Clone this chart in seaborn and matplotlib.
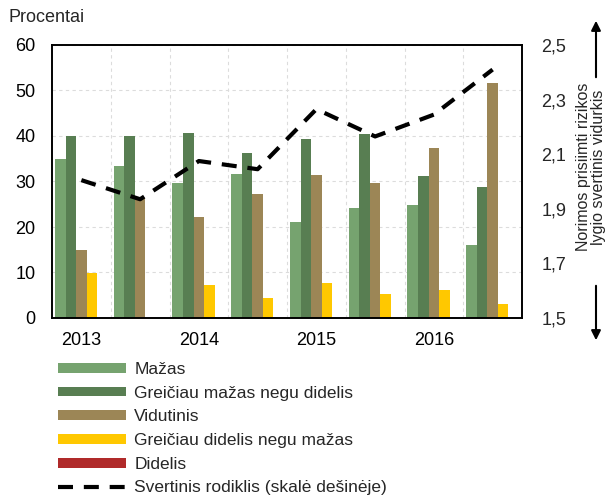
import pandas as pd
import seaborn as sns
import matplotlib.pyplot as plt
from matplotlib.ticker import FixedLocator

# Data (half-year periods, 2013-2016)
periods = ['2013 I', '2013 II', '2014 I', '2014 II', '2015 I', '2015 II', '2016 I', '2016 II']
tick_labels = ['2013', '2014', '2015', '2016']
categories = ['Mažas', 'Greičiau mažas negu didelis', 'Vidutinis',
              'Greičiau didelis negu mažas', 'Didelis']
mazas = [34.9, 33.3, 29.6, 31.7, 21.0, 24.2, 24.9, 16.0]
greiciau_mazas = [40.0, 40.0, 40.7, 36.3, 39.4, 40.5, 31.2, 28.9]
vidutinis = [14.9, 26.4, 22.1, 27.2, 31.5, 29.6, 37.4, 51.6]
greiciau_didelis = [9.9, 0.0, 7.3, 4.3, 7.8, 5.3, 6.2, 3.1]
didelis = [0, 0, 0, 0, 0, 0, 0, 0]
svertinis = [2.005, 1.935, 2.075, 2.045, 2.265, 2.165, 2.245, 2.41]
line_label = 'Svertinis rodiklis (skalė dešinėje)'

colors = ['#76a36f', '#587e52', '#9c8656', '#ffc800', '#b02a2a']

df = pd.DataFrame({
    'period': periods * 5,
    'category': [c for c in categories for _ in periods],
    'value': mazas + greiciau_mazas + vidutinis + greiciau_didelis + didelis,
})

sns.set_style('white')
plt.rcParams['font.family'] = ['Liberation Sans', 'DejaVu Sans']

fig = plt.figure(figsize=(6.15, 4.98), dpi=100)
ax = fig.add_axes([52 / 615, 1 - 318 / 498, 470 / 615, 273 / 498])

sns.barplot(data=df, x='period', y='value', hue='category', order=periods,
            hue_order=categories, palette=colors, saturation=1, width=0.9,
            linewidth=0, ax=ax, legend=True)

ax.set_xlim(-0.5, 7.5)
ax.set_ylim(0, 60)
ax.set_yticks(range(0, 61, 10))
ax.set_xticks(range(0, 8, 2))
ax.set_xticklabels(tick_labels)
ax.xaxis.set_minor_locator(FixedLocator([i + 0.5 for i in range(7)]))
ax.set_xlabel('')
ax.set_ylabel('')
ax.tick_params(axis='both', length=0, labelsize=13, colors='black')
ax.tick_params(axis='y', pad=12)
ax.tick_params(axis='x', pad=10)
ax.grid(axis='y', which='major', color='#dcdcdc', linestyle=(0, (3, 3)), linewidth=0.8)
ax.grid(axis='x', which='minor', color='#dcdcdc', linestyle=(0, (3, 3)), linewidth=0.8)
ax.grid(axis='x', which='major', visible=False)
ax.set_axisbelow(True)
for s in ax.spines.values():
    s.set_color('black')
    s.set_linewidth(1.2)

# weighted index on right scale
ax2 = ax.twinx()
ax2.plot(range(len(periods)), svertinis, color='black', linewidth=3,
         linestyle=(0, (3.6, 2.6)), label=line_label)
ax2.set_ylim(1.5, 2.5)
ax2.set_yticks([1.5, 1.7, 1.9, 2.1, 2.3, 2.5])
ax2.set_yticklabels(['1,5', '1,7', '1,9', '2,1', '2,3', '2,5'])
ax2.tick_params(axis='y', length=0, labelsize=13, pad=14)
for s in ax2.spines.values():
    s.set_color('black')
    s.set_linewidth(1.2)

fig.text(9 / 615, 1 - 17 / 498, 'Procentai', fontsize=13, va='center', ha='left')

fig.text(591 / 615, 1 - 167 / 498, 'Norimos prisiimti rizikos\nlygio svertinis vidurkis',
         rotation=90, fontsize=11.5, ha='center', va='center', linespacing=1.0)
ax.annotate('', xy=(596, 498 - 18), xytext=(596, 498 - 80), xycoords='figure pixels',
            textcoords='figure pixels',
            arrowprops=dict(arrowstyle='-|>', color='black', lw=1.5, mutation_scale=14))
ax.annotate('', xy=(596, 498 - 343), xytext=(596, 498 - 283), xycoords='figure pixels',
            textcoords='figure pixels',
            arrowprops=dict(arrowstyle='-|>', color='black', lw=1.5, mutation_scale=14))

# legend below the chart
handles, labels = ax.get_legend_handles_labels()
ax.get_legend().remove()
h2, l2 = ax2.get_legend_handles_labels()
fig.legend(handles + h2, labels + l2, loc='upper left',
           bbox_to_anchor=(58 / 615, 1 - 362 / 498), frameon=False,
           fontsize=12.5, handlelength=3.9, handleheight=0.5,
           labelspacing=0.5, handletextpad=0.5, borderaxespad=0, borderpad=0)

fig.savefig('out.png', dpi=100)
